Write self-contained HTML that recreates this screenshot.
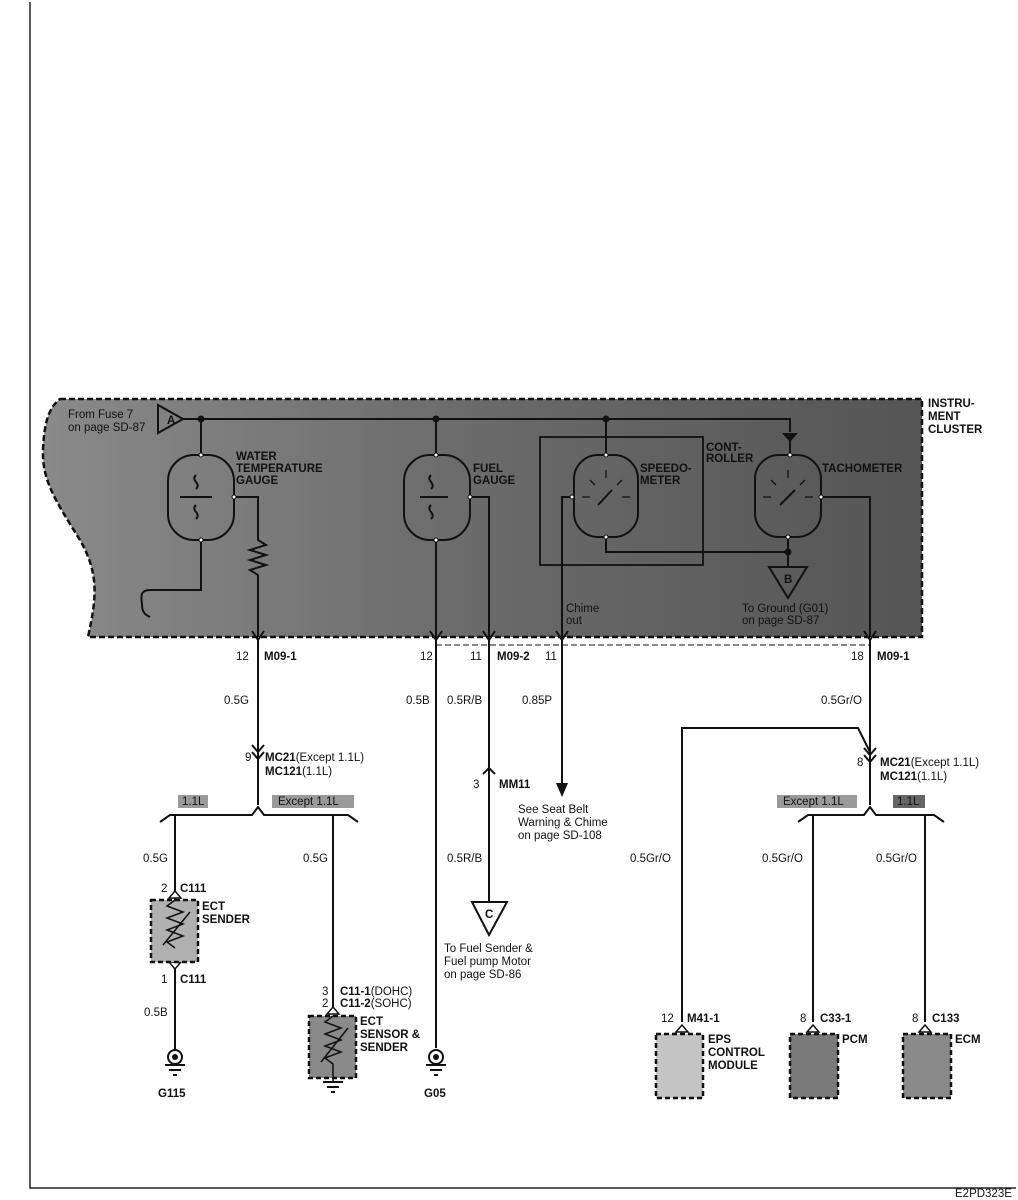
<!DOCTYPE html>
<html><head><meta charset="utf-8"><style>
html,body{margin:0;padding:0;background:#fff}
svg{display:block}
text{font-family:"Liberation Sans",Arial,sans-serif;font-size:11.5px;fill:#111}
.b{font-weight:bold}
</style></head><body>
<svg width="1018" height="1200" viewBox="0 0 1018 1200" xmlns="http://www.w3.org/2000/svg">
<defs>
<linearGradient id="g" x1="0" x2="1" y1="0" y2="0">
<stop offset="0" stop-color="#8a8a8a"/><stop offset="0.5" stop-color="#6a6a6a"/><stop offset="1" stop-color="#555"/>
</linearGradient>
</defs>
<rect x="0" y="0" width="1018" height="1200" fill="#fff"/>
<path d="M30 2 V1188 H1016" fill="none" stroke="#222" stroke-width="1.5"/>
<path d="M60 399 H922 V637 H88 C96 600 100 575 80 540 C55 500 42 480 43 450 C44 425 48 408 60 399 Z" fill="url(#g)" stroke="#111" stroke-width="2.5" stroke-dasharray="6,3"/>
<text class="b" x="928" y="407" font-size="12">INSTRU-</text>
<text class="b" x="928" y="420" font-size="12">MENT</text>
<text class="b" x="928" y="433" font-size="12">CLUSTER</text>
<text x="68" y="418" fill="#222">From Fuse 7</text>
<text x="68" y="431" fill="#222">on page SD-87</text>
<g fill="none" stroke="#111" stroke-width="2">
<path d="M158 405 V433 L183 419 Z"/>
<path d="M183 419 H790 V432"/>
<path d="M201 419 V455 M436 419 V455 M606 419 V455"/>
<rect x="168" y="455" width="66" height="85" rx="26"/>
<path d="M234 497 H258 V540 l8 5 -16 5 16 5 -16 5 16 5 -16 5 8 5 V637"/>
<path d="M201 540 V590 H150 c-12 0 -8 10 -8 15 c0 8 4 10 8 12"/>
<rect x="404" y="455" width="66" height="85" rx="26"/>
<path d="M470 497 H489 V637 M436 540 V637"/>
<rect x="540" y="437" width="163" height="128" stroke-width="1.8"/>
<rect x="574" y="455" width="64" height="82" rx="24"/>
<path d="M572 497 H562 V637 M606 537 V552 H788"/>
<rect x="755" y="455" width="66" height="82" rx="24"/>
<path d="M790 437 V455 M821 497 H870 V637 M788 537 V567"/>
<path d="M769 567 H807 L788 598 Z"/>
<path d="M436 645 H870" stroke-dasharray="6,3" stroke-width="1"/>
</g>
<path d="M782 433 h16 l-8 9 z" fill="#111"/>
<g fill="#111"><circle cx="201" cy="419" r="3.5"/><circle cx="436" cy="419" r="3.5"/><circle cx="606" cy="419" r="3.5"/><circle cx="788" cy="552" r="3.5"/></g>
<g fill="#fff" stroke="#111" stroke-width="1"><circle cx="201" cy="455" r="2"/><circle cx="201" cy="540" r="2"/><circle cx="234" cy="497" r="2"/><circle cx="436" cy="455" r="2"/><circle cx="436" cy="540" r="2"/><circle cx="470" cy="497" r="2"/><circle cx="606" cy="455" r="2"/><circle cx="606" cy="537" r="2"/><circle cx="572" cy="497" r="2"/><circle cx="790" cy="455" r="2"/><circle cx="788" cy="537" r="2"/><circle cx="821" cy="497" r="2"/></g>
<g stroke="#111" stroke-width="2" fill="none"><path d="M180 497 H212 M420 497 H448 M598 505 L612 490 M780 505 L795 490"/>
<path d="M196 475 c-6 6 6 8 0 14 M196 505 c-6 6 6 8 0 14 M431 475 c-6 6 6 8 0 14 M431 505 c-6 6 6 8 0 14"/>
<path d="M590 497 h-8 M622 497 h8 M606 470 v8 M590 480 l5 5 M622 480 l-5 5 M771 497 h-8 M805 497 h8 M788 470 v8 M771 480 l5 5 M805 480 l-5 5" stroke-width="1.3"/></g>
<text x="167" y="424" class="b" font-size="10">A</text>
<text x="784" y="583" class="b" font-size="10">B</text>
<g fill="#222"><text x="236" y="460" class="b">WATER</text><text x="236" y="472" class="b">TEMPERATURE</text><text x="236" y="484" class="b">GAUGE</text>
<text x="473" y="472" class="b">FUEL</text><text x="473" y="484" class="b">GAUGE</text>
<text x="640" y="472" class="b">SPEEDO-</text><text x="640" y="484" class="b">METER</text>
<text x="706" y="451" class="b">CONT-</text><text x="706" y="462" class="b">ROLLER</text>
<text x="822" y="472" class="b">TACHOMETER</text></g>
<text x="566" y="612" fill="#222">Chime</text><text x="566" y="624" fill="#222">out</text>
<text x="742" y="612" fill="#222">To Ground (G01)</text><text x="742" y="624" fill="#222">on page SD-87</text>
<g fill="none" stroke="#111" stroke-width="2">
<path d="M252 631 L258 640 L264 631 M430 631 L436 640 L442 631 M483 631 L489 640 L495 631 M556 631 L562 640 L568 631 M864 631 L870 640 L876 631"/>
<path d="M258 640 V805 M252 745 l6 7 6-7 M252 752 l6 7 6-7"/>
<path d="M160 822 l10 -7 H252 L258 807 L264 815 H348 l10 7"/>
<path d="M175 815 V960 M333 815 V1012"/>
<path d="M175 968 V1050"/>
<path d="M436 640 V1048"/>
<path d="M489 640 V902"/>
<path d="M483 774 l6 -6 6 6"/>
<path d="M562 640 V785"/>
<path d="M870 640 V805 M864 748 l6 7 6-7 M864 755 l6 7 6-7"/>
<path d="M682 1022 V728 H858 L870 752"/>
<path d="M798 822 l10 -7 H864 L870 807 L876 815 H934 l10 7"/>
<path d="M813 815 V1022 M925 815 V1022"/>
<path d="M472 902 H507 L489 935 Z"/>
</g>
<path d="M556 783 h12 l-6 14 z" fill="#111"/>
<text x="485" y="918" class="b" font-size="10">C</text>
<g fill="#fff" stroke="#111" stroke-width="1.5">
<path d="M169 898 l6 -7 6 7 z"/><path d="M169 962 l6 7 6 -7 z"/>
<path d="M327 1014 l6 -7 6 7 z"/>
<path d="M676 1032 l6 -7 6 7 z"/><path d="M807 1032 l6 -7 6 7 z"/><path d="M919 1032 l6 -7 6 7 z"/>
</g>
<g stroke="#111" stroke-width="2.5" stroke-dasharray="5,3">
<rect x="151" y="900" width="47" height="62" fill="#b0b0b0"/>
<rect x="309" y="1016" width="47" height="62" fill="#8a8a8a"/>
<rect x="656" y="1034" width="47" height="64" fill="#c4c4c4"/>
<rect x="790" y="1034" width="48" height="64" fill="#7a7a7a"/>
<rect x="903" y="1034" width="48" height="64" fill="#8a8a8a"/>
</g>
<g fill="none" stroke="#111" stroke-width="1.5">
<path d="M175 900 l-8 6 16 6 -16 6 16 6 -16 6 16 6 -16 6 8 6 M163 945 L190 912"/>
<path d="M333 1016 l-8 6 16 6 -16 6 16 6 -16 6 16 6 -16 6 8 6 V1082 M321 1062 L348 1028"/>
</g>
<g fill="none" stroke="#111" stroke-width="2">
<circle cx="175" cy="1057" r="7"/><circle cx="436" cy="1057" r="7"/>
<path d="M165 1065 H185 M169 1070 H181 M173 1075 H177 M426 1065 H446 M430 1070 H442 M434 1075 H438 M323 1082 H343 M327 1087 H339 M331 1092 H335"/>
</g>
<g fill="#111"><circle cx="175" cy="1057" r="3"/><circle cx="436" cy="1057" r="3"/></g>
<g fill="#9a9a9a"><rect x="178" y="795" width="30" height="13"/><rect x="272" y="795" width="82" height="13"/><rect x="777" y="795" width="80" height="13"/></g>
<rect x="893" y="795" width="32" height="13" fill="#666"/>
<g font-size="10"><text x="182" y="805">1.1L</text><text x="278" y="805">Except 1.1L</text><text x="783" y="805">Except 1.1L</text><text x="897" y="805">1.1L</text></g>
<text x="236" y="660">12</text><text x="264" y="660" class="b">M09-1</text>
<text x="420" y="660">12</text><text x="470" y="660">11</text><text x="497" y="660" class="b">M09-2</text>
<text x="545" y="660">11</text><text x="851" y="660">18</text><text x="877" y="660" class="b">M09-1</text>
<text x="224" y="704">0.5G</text><text x="406" y="704">0.5B</text><text x="447" y="704">0.5R/B</text><text x="522" y="704">0.85P</text><text x="821" y="704">0.5Gr/O</text>
<text x="245" y="761">9</text><text x="265" y="761"><tspan class="b">MC21</tspan>(Except 1.1L)</text><text x="265" y="775"><tspan class="b">MC121</tspan>(1.1L)</text>
<text x="857" y="766">8</text><text x="880" y="766"><tspan class="b">MC21</tspan>(Except 1.1L)</text><text x="880" y="780"><tspan class="b">MC121</tspan>(1.1L)</text>
<text x="473" y="788">3</text><text x="499" y="788" class="b">MM11</text>
<text x="518" y="813">See Seat Belt</text><text x="518" y="826">Warning &amp; Chime</text><text x="518" y="839">on page SD-108</text>
<text x="143" y="862">0.5G</text><text x="303" y="862">0.5G</text><text x="447" y="862">0.5R/B</text>
<text x="630" y="862">0.5Gr/O</text><text x="762" y="862">0.5Gr/O</text><text x="876" y="862">0.5Gr/O</text>
<text x="161" y="892">2</text><text x="180" y="892" class="b">C111</text>
<text x="202" y="910" class="b">ECT</text><text x="202" y="923" class="b">SENDER</text>
<text x="161" y="983">1</text><text x="180" y="983" class="b">C111</text>
<text x="144" y="1016">0.5B</text>
<text x="158" y="1097" class="b">G115</text><text x="424" y="1097" class="b">G05</text>
<text x="444" y="952">To Fuel Sender &amp;</text><text x="444" y="965">Fuel pump Motor</text><text x="444" y="978">on page SD-86</text>
<text x="322" y="995">3</text><text x="340" y="995"><tspan class="b">C11-1</tspan>(DOHC)</text>
<text x="322" y="1007">2</text><text x="340" y="1007"><tspan class="b">C11-2</tspan>(SOHC)</text>
<text x="360" y="1025" class="b">ECT</text><text x="360" y="1038" class="b">SENSOR &amp;</text><text x="360" y="1051" class="b">SENDER</text>
<text x="661" y="1022">12</text><text x="687" y="1022" class="b">M41-1</text>
<text x="708" y="1043" class="b">EPS</text><text x="708" y="1056" class="b">CONTROL</text><text x="708" y="1069" class="b">MODULE</text>
<text x="800" y="1022">8</text><text x="820" y="1022" class="b">C33-1</text><text x="842" y="1043" class="b">PCM</text>
<text x="912" y="1022">8</text><text x="932" y="1022" class="b">C133</text><text x="955" y="1043" class="b">ECM</text>
<text x="955" y="1197" font-size="9">E2PD323E</text>
</svg>
</body></html>
